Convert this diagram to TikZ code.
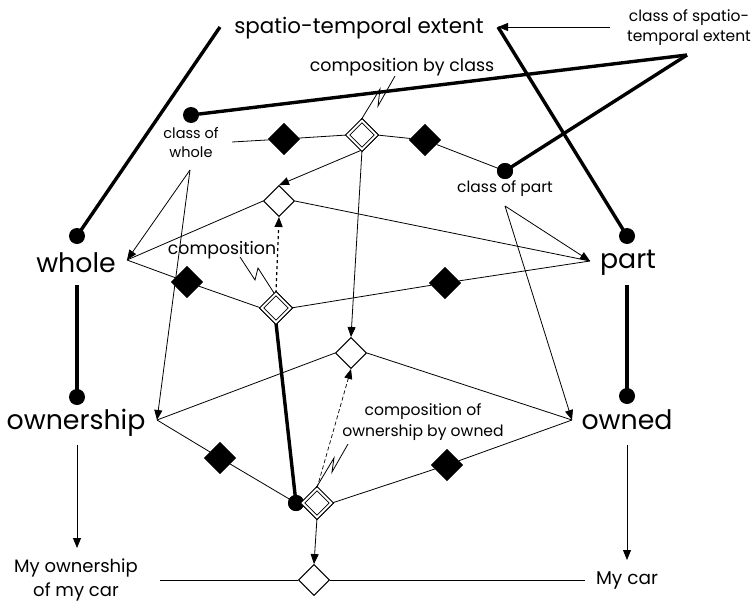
\documentclass[tikz,border=0pt]{standalone}
\usepackage{fontspec}
\setmainfont{Poppins}
\usetikzlibrary{arrows.meta,shapes.geometric}
\begin{document}
\begin{tikzpicture}[x=1pt,y=-1pt,
  biglbl/.style={font=\fontsize{26.8}{30}\selectfont, inner sep=0pt},
  smalllbl/.style={font=\fontsize{15.5}{20}\selectfont, inner sep=0pt, align=center},
  thickln/.style={line width=3.4pt},
  thinln/.style={line width=0.8pt},
  arr/.style={thinln,-{Triangle[length=10pt,width=8pt]}},
  dotnode/.style={circle, fill=black, inner sep=0pt, minimum size=16pt},
  blackdia/.style={diamond, fill=black, inner sep=0pt, minimum width=32pt, minimum height=32pt},
  plaindia/.style={diamond, draw=black, fill=white, line width=0.9pt, inner sep=0pt, minimum width=31pt, minimum height=31pt},
  dbldia/.style={diamond, draw=black, fill=white, line width=0.9pt, double=white, double distance=2pt, inner sep=0pt, minimum width=29pt, minimum height=29pt},
  bolt/.style={thinln}
]
\useasboundingbox (0,0) rectangle (754,605);

% text labels
\node[biglbl, font=\fontsize{21.4}{26}\selectfont] (ste) at (359,28) {spatio-temporal extent};
\node[smalllbl] (cste) at (689,28) {class of spatio-\\temporal extent};
\node[smalllbl, font=\fontsize{17.4}{21}\selectfont] (cbc) at (402,67) {composition by class};
\node[smalllbl, font=\fontsize{14.5}{19}\selectfont] (cw) at (191,143) {class of\\whole};
\node[smalllbl] (cp) at (505,189) {class of part};
\node[biglbl] (whole) at (76,263) {whole};
\node[biglbl] (part) at (628,263) {part};
\node[smalllbl, font=\fontsize{17.3}{21}\selectfont] (comp) at (222,250) {composition};
\node[biglbl] (own) at (76,423) {ownership};
\node[biglbl] (owned) at (627,420) {owned};
\node[smalllbl, font=\fontsize{15.6}{20.5}\selectfont] (cobo) at (423,422) {composition of\\ownership by owned};
\node[smalllbl, font=\fontsize{18}{24}\selectfont] (myown) at (76,580) {My ownership\\of my car};
\node[smalllbl, font=\fontsize{18.5}{22}\selectfont] (mycar) at (627,580) {My car};

% coordinates
\coordinate (steL) at (220,27);
\coordinate (steR) at (498,27);
\coordinate (csteA) at (610,27);
\coordinate (csteB) at (687,55);
\coordinate (cwB) at (190,170);
\coordinate (cwE) at (232,142);
\coordinate (cpB) at (505,206);
\coordinate (wtip) at (127,260);
\coordinate (ptip) at (590,261);
\coordinate (otip) at (157,420);
\coordinate (owtip) at (572,420);
\coordinate (wB) at (77,285);
\coordinate (pB) at (627,285);
\coordinate (oB) at (77,445);
\coordinate (owB) at (627,445);
\coordinate (myT) at (77,548);
\coordinate (mcT) at (627,560);
\coordinate (myE) at (160,580);
\coordinate (mcW) at (585,580);

% dots
\node[dotnode] (cwdot) at (191,115) {};
\node[dotnode] (cpdot) at (505,171) {};
\node[dotnode] (wdot) at (77,236) {};
\node[dotnode] (pdot) at (627,236) {};
\node[dotnode] (odot) at (77,397) {};
\node[dotnode] (owdot) at (627,396) {};
\node[dotnode] (xdot) at (296,503) {};

% diamonds
\node[dbldia] (ddc) at (362,135) {};
\node[blackdia] (bd1) at (284,139) {};
\node[blackdia] (bd2) at (425,140) {};
\node[plaindia] (ud) at (279,201) {};
\node[dbldia] (ddcomp) at (276,308) {};
\node[blackdia] (bd3) at (187,282) {};
\node[blackdia] (bd4) at (445,283) {};
\node[plaindia] (ld) at (351,353) {};
\node[dbldia] (ddo) at (317,503) {};
\node[blackdia] (bd5) at (220,458) {};
\node[blackdia] (bd6) at (447,465) {};
\node[plaindia] (bdia) at (314,580) {};

% thick lines
\draw[thickln] (steL) -- (wdot.center);
\draw[thickln] (steR) -- (pdot.center);
\draw[thickln] (csteB) -- (cwdot.center);
\draw[thickln] (csteB) -- (cpdot.center);
\draw[thickln] (wB) -- (odot.center);
\draw[thickln] (pB) -- (owdot.center);
\draw[thickln] (ddcomp.south) -- (xdot.center);

% thin arrows
\draw[arr] (csteA) -- (steR);
\draw[arr] (cwB) -- (wtip);
\draw[arr] (cwB) -- (otip);
\draw[arr] (cpB) -- (ptip);
\draw[arr] (cpB) -- (owtip);
\draw[arr] (ddc.south) -- (ud.north);
\draw[arr] (ddc.south) -- (ld.north);
\draw[arr] (ddo.south) -- (bdia.north);
\draw[arr] (oB) -- (myT);
\draw[arr] (owB) -- (mcT);
\draw[line width=1.2pt, dashed, -{Triangle[length=10pt,width=8pt]}] (ddcomp.north) -- (ud.south);
\draw[line width=0.7pt, dash pattern=on 4pt off 2.5pt, -{Triangle[length=10pt,width=8pt]}] (ddo.north) -- (ld.south);

% thin lines
\draw[thinln] (cwE) -- (bd1) -- (ddc.west);
\draw[thinln] (ddc.east) -- (bd2) -- (cpdot.center);
\draw[thinln] (ud.west) -- (wtip);
\draw[thinln] (ud.east) -- (ptip);
\draw[thinln] (ddcomp.west) -- (bd3) -- (wtip);
\draw[thinln] (ddcomp.east) -- (bd4) -- (ptip);
\draw[thinln] (ld.west) -- (otip);
\draw[thinln] (ld.east) -- (owtip);
\draw[thinln] (otip) -- (bd5) -- (xdot.center);
\draw[thinln] (ddo.east) -- (bd6) -- (owtip);
\draw[thinln] (myE) -- (bdia.west);
\draw[thinln] (bdia.east) -- (mcW);

% redraw nodes on top
\node[blackdia] at (bd1) {};
\node[blackdia] at (bd2) {};
\node[blackdia] at (bd3) {};
\node[blackdia] at (bd4) {};
\node[blackdia] at (bd5) {};
\node[blackdia] at (bd6) {};
\node[dotnode] at (xdot) {};
\node[dbldia] at (ddc) {};
\node[dbldia] at (ddcomp) {};
\node[dbldia] at (ddo) {};
\node[plaindia] at (ud) {};
\node[plaindia] at (ld) {};
\node[plaindia] at (bdia) {};
\node[dotnode] at (cpdot) {};

% lightning callouts
\coordinate (b1a) at (395,76); \coordinate (b1b) at (378,106);
\coordinate (b1c) at (380,89); \coordinate (b1d) at (361,120);
\draw[bolt] (b1a) -- (b1b) -- (b1c) -- (b1d);
\coordinate (b2a) at (240,257); \coordinate (b2b) at (255,280);
\coordinate (b2c) at (258,268); \coordinate (b2d) at (274,293);
\draw[bolt] (b2a) -- (b2b) -- (b2c) -- (b2d);
\coordinate (b3a) at (348,444); \coordinate (b3b) at (332,472);
\coordinate (b3c) at (334,458); \coordinate (b3d) at (316,488);
\draw[bolt] (b3a) -- (b3b) -- (b3c) -- (b3d);
\end{tikzpicture}
\end{document}
